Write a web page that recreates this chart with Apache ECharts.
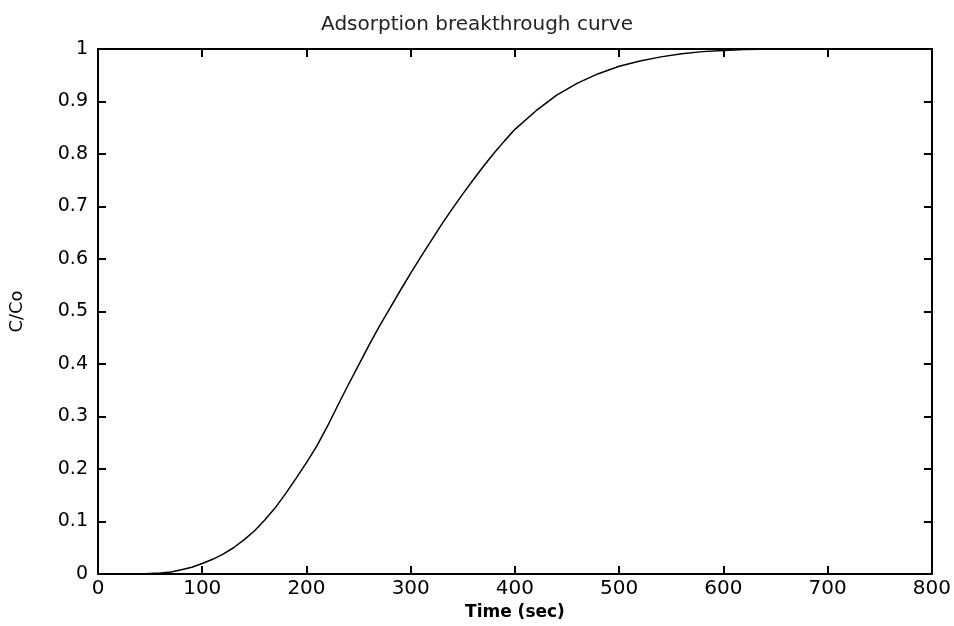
<!DOCTYPE html>
<html>
<head>
<meta charset="utf-8">
<script src="https://cdn.jsdelivr.net/npm/echarts@6/dist/echarts.min.js"></script>
<style>
html,body{margin:0;padding:0;background:#fff;}
#main{width:954px;height:626px;}
</style>
</head>
<body>
<div id="main"></div>
<script>
var titleText = 'Adsorption breakthrough curve';
var xName = 'Time (sec)';
var yName = 'C/Co';
var xTicks = [0, 100, 200, 300, 400, 500, 600, 700, 800];
var yTicks = [0, 0.1, 0.2, 0.3, 0.4, 0.5, 0.6, 0.7, 0.8, 0.9, 1];
var timeSec = [0,20,40,60,70,80,90,100,110,120,130,140,150,160,170,180,190,200,210,220,230,240,250,260,270,280,290,300,310,320,330,340,350,360,370,380,390,400,420,440,460,480,500,520,540,560,580,600,620,650,700,750,800];
var ratioCC0 = [0,0,0,0.002,0.004,0.008,0.013,0.02,0.028,0.038,0.05,0.065,0.082,0.103,0.126,0.153,0.182,0.212,0.244,0.281,0.321,0.36,0.398,0.436,0.472,0.506,0.54,0.573,0.605,0.636,0.667,0.696,0.724,0.751,0.777,0.802,0.825,0.847,0.882,0.912,0.935,0.953,0.967,0.977,0.985,0.991,0.995,0.997,0.999,1.0,1.0,1.0,1.0];

var seriesData = timeSec.map(function(t, i){ return [t, ratioCC0[i]]; });
var font = 'DejaVu Sans';
var axisLineStyle = {color:'#000', width:2};

var chart = echarts.init(document.getElementById('main'));
chart.setOption({
  backgroundColor:'#fff',
  animation:false,
  title:{
    text:titleText, left:'center', top:10,
    textStyle:{fontFamily:font, fontSize:20, fontWeight:'normal', color:'#222'}
  },
  grid:{left:93, right:21, top:49, bottom:51},
  xAxis:[{
    type:'value', min:xTicks[0], max:xTicks[xTicks.length-1], interval:100,
    name:xName, nameLocation:'middle', nameGap:30,
    nameTextStyle:{fontFamily:font, fontSize:17, fontWeight:'bold', color:'#000'},
    axisLine:{show:true, onZero:false, lineStyle:axisLineStyle},
    axisTick:{show:true, inside:true, length:8, lineStyle:{color:'#000', width:2}},
    axisLabel:{fontFamily:font, fontSize:20, color:'#000', margin:5},
    splitLine:{show:false}
  },{
    type:'value', position:'top', min:0, max:800, interval:100,
    axisLine:{show:true, onZero:false, lineStyle:axisLineStyle},
    axisTick:{show:true, inside:true, length:8, lineStyle:{color:'#000', width:2}},
    axisLabel:{show:false}, splitLine:{show:false}
  }],
  yAxis:[{
    type:'value', min:yTicks[0], max:yTicks[yTicks.length-1], interval:0.1,
    name:yName, nameLocation:'middle', nameGap:72, nameRotate:90,
    nameTextStyle:{fontFamily:font, fontSize:18, color:'#000'},
    axisLine:{show:true, onZero:false, lineStyle:axisLineStyle},
    axisTick:{show:true, inside:true, length:8, lineStyle:{color:'#000', width:2}},
    axisLabel:{fontFamily:font, fontSize:19, color:'#000', margin:10,
      formatter:function(v){ return String(Math.round(v*10)/10); }},
    splitLine:{show:false}
  },{
    type:'value', position:'right', min:0, max:1, interval:0.1,
    axisLine:{show:true, onZero:false, lineStyle:axisLineStyle},
    axisTick:{show:true, inside:true, length:8, lineStyle:{color:'#000', width:2}},
    axisLabel:{show:false}, splitLine:{show:false}
  }],
  series:[{
    type:'line', xAxisIndex:0, yAxisIndex:0,
    data:seriesData, showSymbol:false, smooth:false,
    lineStyle:{color:'#000', width:1.5}
  }]
});
</script>
</body>
</html>
